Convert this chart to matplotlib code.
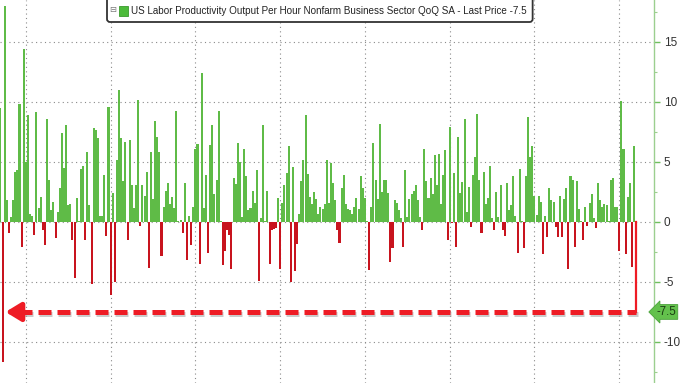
import numpy as np
import matplotlib
matplotlib.use("Agg")
import matplotlib.pyplot as plt
from matplotlib.patches import FancyBboxPatch, Rectangle
import matplotlib.patheffects as pe

plt.rcParams['font.family'] = ['Liberation Sans', 'DejaVu Sans']
plt.rcParams['axes.unicode_minus'] = False

# quarterly productivity change (ends 2022 Q1)
vals_1 = [9.5, -11.7, 18.0, 1.8, -0.9, 0.4, 1.8, 4.2, 4.3, 9.8, -2.1, 14.4, 5.0, 8.9, 0.7, 0.5,
          -1.1, 9.2, 1.2, 2.1, -0.7, -1.9, 8.6, 3.5, 1.0, 1.7, -1.3, 0.8, 2.8, 7.4, 4.5, 8.1,
          1.4, 1.5, -1.5, -4.7, 2.0, 0.1, 4.4, 4.7, -1.5, 5.8, 1.4, -5.2, 7.8, 7.7, 7.0, 0.5,
          0.5, 3.9, -1.2, 9.6]
vals_2 = [-6.1, 2.4, -5.0, 5.2, 11.0, 7.0, 3.4, 6.7, -1.5, 6.8, 3.1, 1.2, 3.1, 10.2, -0.3, 3.1,
          2.2, 4.2, -3.8, 5.8, 1.9, 8.4, 7.1, 5.8, -2.8, 1.25, 2.6, 3.25, 1.5, 2.1, 1.2, 9.25,
          0.1, 0.2, -0.9, 3.25, -3.2, 0.5, -1.9, 1.25, 6.1, 6.5, -3.5, 12.4, 1.2, 3.9, -2.6,
          6.4, 8.1]
vals_3 = [2.3, 3.5, 9.25, 0.1, -3.6, -2.4, -0.7, -1.1, -3.9, 3.7, 3.2, 6.6, 5.0, 0.4, 6.1, 3.8,
          1.0, 1.2, 2.6, 1.6, 4.3, -4.9, 0.3, 8.1, 0.1, 2.6, -3.5, -0.7, -0.6, -0.5, 2.0, -3.9,
          1.6, 3.1, 4.1, 6.3, -5.0, 4.6, -4.1, -1.8, 0.7, 3.4, 5.2, 8.9, 4.0, 2.1, 1.5, 2.5,
          1.9, 0.7]
vals_4 = [1.25, 1.1, 1.5, 5.2, 1.6, 4.9, 3.25, 1.8, -0.7, -1.75, 2.8, 3.9, 1.5, 1.1, 1.0, 0.7,
          1.25, 2.0, 1.1, 3.8, 2.8, 2.0, 0.1, -4.0, 1.25, 6.6, 3.5, 1.9, 8.2, 2.5, 3.5, 3.5,
          2.4, -3.3, -2.2, 1.8, 1.6, 1.0, 0.3, -2.1, 4.3, 0.4, 1.9, 2.3, 2.6, 3.1, 1.8, 0.4,
          -0.7]
vals_5 = [6.1, 3.4, 2.0, 3.7, 2.3, 5.6, 3.1, 5.7, 1.5, 3.9, 6.0, -1.5, 7.9, -0.1, 4.1, -2.1,
          7.1, 2.4, 3.3, 8.6, 0.8, 2.9, -0.4, 3.9, 5.4, 9.0, 3.5, -0.9, 4.2, 1.5, 2.0, 4.7,
          0.3, -0.7, 2.5, 0.4, 3.1, -0.7, -1.2, 3.25, 1.0, 1.4, 3.8, 0.5, -2.6, 4.4, 0.1,
          -2.2, 3.8, 8.75]
vals_6 = [5.4, 6.3, 2.2, 0.6, 2.2, 1.7, -2.7, 0.5, -1.25, 2.8, 1.8, 1.7, -0.4, -1.25, 2.2,
          -1.25, 1.9, 2.8, -3.9, 3.8, 3.5, -2.1, 3.4, 1.1, 0.1, -1.5, 1.25, -0.3, 1.6, 2.3,
          0.3, -0.5, 3.25, 1.8, 1.25, 1.5, 1.4, 0.1, 3.5, 3.7, 1.25, 1.25, -2.4, 10.1, 6.1,
          -2.7, 2.1, 3.25, -3.75, 6.3, -7.5]

values = np.array(vals_1 + vals_2 + vals_3 + vals_4 + vals_5 + vals_6)
last_period = 2022.0
n = len(values)
periods = last_period - 0.25 * np.arange(n)[::-1]
last_price = values[-1]

yticks = [-10, -5, 0, 5, 10, 15]
decades = [1950, 1960, 1970, 1980, 1990, 2000, 2010, 2020]
title = "US Labor Productivity Output Per Hour Nonfarm Business Sector QoQ SA - Last Price -7.5"

green = '#5fbb47'
red = '#c8141e'
arrow_red = '#ee1c25'

fig = plt.figure(figsize=(6.8, 3.83), dpi=100)
ax = fig.add_axes([0, 0, 654 / 680, 1])

colors = [green if v >= 0 else red for v in values]
ax.bar(periods, values, width=0.24, color=colors, linewidth=0, zorder=2)

ax.set_ylim(-13.42, 18.5)
ax.set_xlim(periods[0] - 0.05, last_period + 2.1)

# grid
for y in yticks:
    ax.axhline(y, color='#8a8a8a', lw=0.8, ls=(0, (1, 3)), zorder=1)
for d in decades:
    ax.axvline(d, color='#8a8a8a', lw=0.8, ls=(0, (1, 3)), zorder=1)

# right axis styling
for s in ['left', 'top', 'bottom']:
    ax.spines[s].set_visible(False)
ax.spines['right'].set_color('#9ccf8f')
ax.spines['right'].set_linewidth(1.0)
ax.yaxis.tick_right()
ax.set_yticks(yticks)
ax.set_yticks(np.arange(-12.5, 18, 2.5), minor=True)
ax.tick_params(axis='y', which='major', length=4, width=1, color='#6fbf5f',
               labelsize=8.5, labelcolor='#333333', pad=3)
ax.tick_params(axis='y', which='minor', length=2.5, width=0.8, color='#9ccf8f')
ax.set_xticks([])

# dashed arrow at last value
shadow = [pe.SimpleLineShadow(offset=(1, -1.5), shadow_color='#999999', alpha=0.5), pe.Normal()]
ax.plot([periods[0] + 2.2, last_period], [last_price, last_price], color=arrow_red,
        lw=3.6, ls=(0, (2.6, 1.2)), solid_capstyle='butt', zorder=4, path_effects=shadow)
ax.annotate('', xy=(periods[0] + 0.6, last_price), xytext=(periods[0] + 2.4, last_price),
            arrowprops=dict(arrowstyle='-|>,head_length=0.9,head_width=0.55', color=arrow_red,
                            lw=3.6, shrinkA=0, shrinkB=0), zorder=4)
ax.plot([last_period, last_period], [0, last_price], color=arrow_red, lw=1.6, zorder=4)

# last price tag
ax.text(1.004, last_price, f"{last_price:g}", transform=ax.get_yaxis_transform(),
        ha='left', va='center', fontsize=8.3, color='#1a3d12',
        bbox=dict(boxstyle='larrow,pad=0.12', fc='#63c14c', ec='#4aa23a', lw=0.6),
        clip_on=False, zorder=6)

# legend box (built by hand: icon, swatch, text)
txt = fig.text(131 / 680, 1 - 11 / 383, title, fontsize=7.1, color='#222222',
               ha='left', va='center', zorder=9)
fig.canvas.draw()
bb = txt.get_window_extent()
cy = (bb.y0 + bb.y1) / 2
frame = FancyBboxPatch((bb.x0 - 24, cy - 11), bb.width + 30, 26,
                       boxstyle='round,pad=0,rounding_size=3', transform=None,
                       fc='white', ec='#333333', lw=1.3, zorder=8)
fig.add_artist(frame)
fig.add_artist(Rectangle((bb.x0 - 12, cy - 5), 9, 10, transform=None,
                         fc='#4cbb3a', ec='#3a9a2c', lw=0.6, zorder=9))
fig.text((bb.x0 - 18.5) / 680, cy / 383, "\u229f", fontsize=6, color='#777777',
         ha='center', va='center', zorder=9)

fig.savefig('out.png', dpi=100)
